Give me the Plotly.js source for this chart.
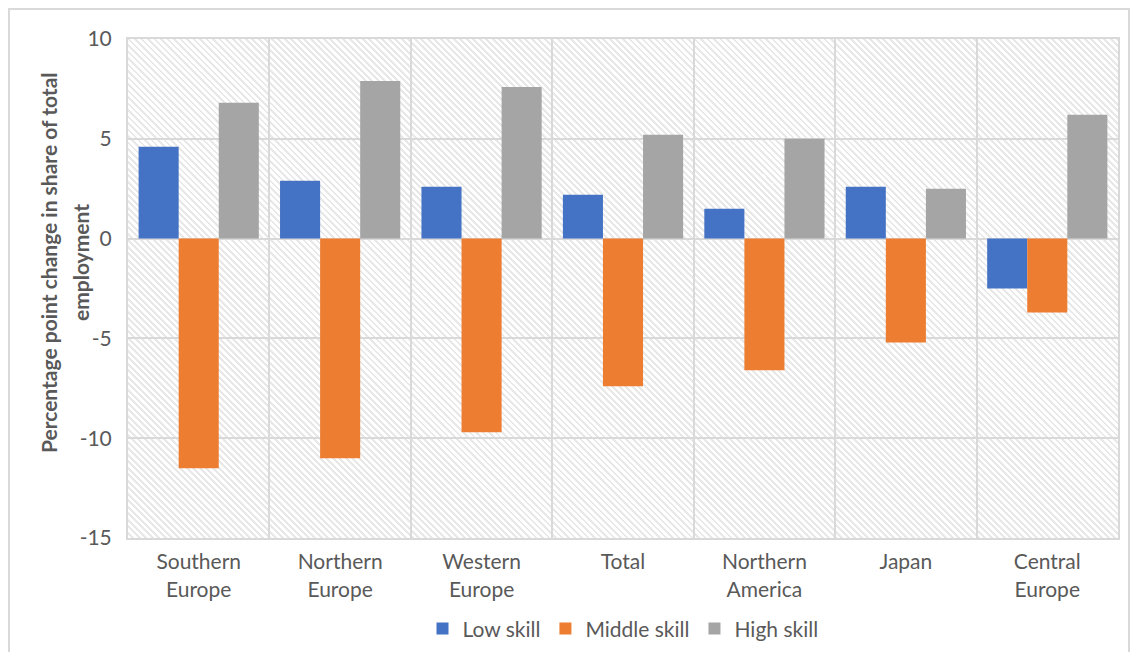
<!DOCTYPE html>
<html>
<head>
<meta charset="utf-8">
<script src="https://cdn.plot.ly/plotly-3.0.1.min.js"></script>
<style>
  html, body { margin: 0; padding: 0; background: #fff; }
  #wrap { position: relative; width: 1137px; height: 652px; overflow: hidden; }
  #frame { position: absolute; left: 8px; top: 8px; width: 1122px; height: 660px;
           border: 2px solid #d9d9d9; box-sizing: border-box; }
  #hatch { position: absolute; left: 128px; top: 39px; width: 990px; height: 499px;
           background: repeating-linear-gradient(45deg, #ffffff 0px, #ffffff 2.6px, #e8e8e8 2.6px, #e8e8e8 4.6px); }
  #chart { position: absolute; left: 0; top: 0; width: 1137px; height: 652px; }
</style>
</head>
<body>
<div id="wrap">
  <div id="frame"></div>
  <div id="hatch"></div>
  <div id="chart"></div>
</div>
<script>
// Regions (line breaks for the two-line axis labels)
const regions = ['Southern<br>Europe', 'Northern<br>Europe', 'Western<br>Europe', 'Total',
                 'Northern<br>America', 'Japan', 'Central<br>Europe'];

// Percentage point change in share of total employment
const lowSkill    = [4.6, 2.9, 2.6, 2.2, 1.5, 2.6, -2.5];
const middleSkill = [-11.5, -11.0, -9.7, -7.4, -6.6, -5.2, -3.7];
const highSkill   = [6.8, 7.9, 7.6, 5.2, 5.0, 2.5, 6.2];

const seriesNames = ['Low skill', 'Middle skill', 'High skill'];
const yTicks = [-15, -10, -5, 0, 5, 10];
const yTitleLines = ['Percentage point change in share of total', 'employment'];

const colors = ['#4472C4', '#ED7D31', '#A5A5A5'];
const font = 'Lato, "Open Sans", sans-serif';

const traces = [lowSkill, middleSkill, highSkill].map((vals, i) => ({
  type: 'bar',
  name: seriesNames[i],
  x: regions,
  y: vals,
  marker: { color: colors[i], line: { width: 0 } },
  hoverinfo: 'x+y+name'
}));

// Two-line vertical axis title, each line placed on its own
const titleX = [-0.0803, -0.048];
const titleAnnotations = yTitleLines.map((line, i) => ({
  text: line,
  xref: 'paper', yref: 'paper',
  x: titleX[i], y: 0.552,
  xanchor: 'center', yanchor: 'middle',
  textangle: -90,
  showarrow: false,
  font: { family: font, size: 21, color: '#595959', weight: 'bold' }
}));

const layout = {
  width: 1137,
  height: 652,
  margin: { l: 128, r: 19, t: 39, b: 114, autoexpand: false },
  paper_bgcolor: 'rgba(0,0,0,0)',
  plot_bgcolor: 'rgba(0,0,0,0)',
  barmode: 'group',
  bargap: 0.15,
  bargroupgap: 0,
  font: { family: font, size: 21, color: '#595959' },
  showlegend: true,
  legend: {
    orientation: 'h',
    x: 0.5, xanchor: 'center',
    y: -0.182, yanchor: 'middle',
    font: { family: font, size: 21, color: '#595959' },
    itemwidth: 30,
    traceorder: 'normal'
  },
  xaxis: {
    type: 'category',
    automargin: false,
    tickson: 'boundaries',
    showgrid: true,
    gridcolor: '#d9d9d9',
    gridwidth: 2,
    showline: true,
    linecolor: '#d9d9d9',
    linewidth: 2,
    mirror: true,
    ticks: '',
    ticklabelstandoff: 4,
    tickfont: { family: font, size: 21, color: '#595959' },
    fixedrange: true
  },
  yaxis: {
    range: [-15, 10],
    automargin: false,
    tickmode: 'array',
    tickvals: yTicks,
    ticktext: yTicks.map(v => String(v)),
    showgrid: true,
    gridcolor: '#d9d9d9',
    gridwidth: 2,
    zeroline: false,
    showline: true,
    linecolor: '#d9d9d9',
    linewidth: 2,
    mirror: true,
    ticks: '',
    ticklabelstandoff: 10,
    tickfont: { family: font, size: 21, color: '#595959' },
    fixedrange: true
  },
  annotations: titleAnnotations
};

Plotly.newPlot('chart', traces, layout, { displayModeBar: false });
</script>
</body>
</html>
